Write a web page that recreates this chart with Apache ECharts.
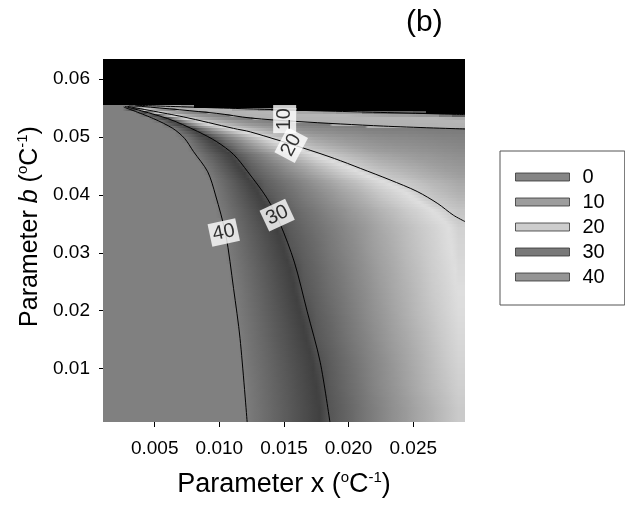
<!DOCTYPE html>
<html><head><meta charset="utf-8">
<script src="https://cdn.jsdelivr.net/npm/echarts@6/dist/echarts.min.js"></script>
<style>html,body{margin:0;padding:0;background:#fff}#c{width:625px;height:507px}</style>
</head><body><div id="c"></div>
<script>
// ---- data ----
const xEdges = [0.001,0.002,0.003,0.004,0.005,0.006,0.007,0.008,0.009,0.010,0.011,0.012,0.013,0.014,0.015,0.016,0.017,0.018,0.019,0.020,0.021,0.022,0.023,0.024,0.025,0.026,0.027,0.028,0.029];
const yEdges = [0.00075,0.005,0.009,0.013,0.017,0.021,0.025,0.029,0.033,0.036,0.039,0.042,0.044,0.046,0.048,0.050,0.051,0.052,0.053,0.0535,0.054,0.0545,0.055,0.0555,0.0635];
// one row of estimated values per y band (bottom to top); -1 = black (no value)
const fieldRows = [
 [46,46,46,46,46,46,46,45,44,43,41,39.4,37.8,36.2,34.6,33.0,31.4,29.9,29.2,28.4,27.6,26.9,26.1,25.4,24.6,23.9,23.1,22.3],
 [46,46,46,46,46,46,46,45,44,43,41,39.2,37.5,35.9,34.3,32.6,31.0,29.7,28.9,28.1,27.3,26.5,25.8,25.0,24.2,23.4,22.7,21.9],
 [46,46,46,46,46,46,46,45,44,42,40.5,38.8,37.2,35.5,33.8,32.2,30.5,29.5,28.7,27.9,27.1,26.4,25.6,24.8,24.0,23.2,22.4,21.6],
 [46,46,46,46,46,46,46,45,44,42,40.2,38.4,36.7,34.9,33.2,31.4,29.8,29.1,28.3,27.5,26.8,26.0,25.2,24.5,23.7,22.9,22.1,21.3],
 [46,46,46,46,46,46,45,44,43,41,39.8,38.0,36.2,34.4,32.5,30.7,29.5,28.8,28.0,27.2,26.4,25.7,24.9,24.1,23.3,22.6,21.8,21.0],
 [46,46,46,46,46,46,45,44,43,41,39.4,37.5,35.6,33.7,31.7,29.9,29.2,28.4,27.7,26.9,26.2,25.4,24.6,23.9,23.1,22.3,21.6,20.8],
 [46,46,46,46,46,46,45,44,42,40.5,38.8,36.9,34.9,32.9,31.0,29.6,28.9,28.1,27.4,26.6,25.9,25.1,24.4,23.6,22.9,22.1,21.4,20.6],
 [46,46,46,46,46,46,45,44,42,40.2,38.1,36.0,33.9,31.9,29.9,29.2,28.5,27.7,27.0,26.3,25.5,24.8,24.1,23.3,22.6,21.9,21.1,20.4],
 [46,46,46,46,46,45,44,43,41,39.6,37.3,35.1,32.9,30.7,29.5,28.8,28.1,27.4,26.7,26.0,25.3,24.5,23.8,23.1,22.4,21.7,21.0,20.2],
 [46,46,46,46,46,45,44,43,40.6,38.8,36.3,33.9,31.5,29.7,29.0,28.2,27.5,26.7,26.0,25.2,24.5,23.7,23.0,22.2,21.5,20.7,20.0,19.1],
 [46,46,46,46,45,44,43,42,40.3,37.6,34.9,32.2,29.8,29.0,28.2,27.3,26.5,25.7,24.8,24.0,23.2,22.3,21.5,20.7,19.8,18.8,17.9,17.0],
 [46,46,46,45,44,43,42,41,39.4,36.3,33.1,30.0,29.0,28.0,27.1,26.1,25.1,24.1,23.1,22.2,21.2,20.2,19.3,18.5,17.6,16.8,16.1,15.4],
 [46,46,46,45,44,43,42,40.5,37.7,34.3,31.0,29.2,28.0,26.9,25.7,24.6,23.4,22.3,21.1,20.0,18.9,17.9,17.2,16.5,15.9,15.2,14.6,14.1],
 [46,46,45,44,43,42,41,38.7,35.3,32.0,29.4,27.9,26.5,25.0,23.5,22.1,20.6,19.3,18.2,17.2,16.3,15.6,15.1,14.6,14.1,13.7,13.2,12.8],
 [46,45,44,43,42,41,39.9,35.8,31.7,28.9,27.0,25.1,23.2,21.3,19.5,18.0,16.7,15.9,15.1,14.4,13.8,13.3,12.9,12.7,12.4,12.1,11.8,11.5],
 [45,44,43,42,41,40.5,36.7,31.1,28.1,25.8,23.5,21.2,19.0,17.1,15.8,14.7,13.8,13.3,12.8,12.4,11.9,11.6,11.4,11.3,11.1,10.9,10.7,10.6],
 [45,44,43,42,41,39.3,32.1,27.9,24.8,21.8,19.1,17.2,15.5,14.3,13.3,12.4,11.9,11.6,11.2,11.0,10.6,10.5,10.3,10.3,10.2,10.1,10.0,9.9],
 [44,43,42,41,39.9,31.7,26.7,22.5,18.9,16.7,14.8,13.2,12.1,11.4,10.8,10.2,9.9,9.5,9.0,8.6,7.8,7.4,7.0,7.0,6.5,6.3,5.8,5.4],
 [44,43,42,40.4,33.6,26.5,20.6,17.2,15.0,13.1,11.5,10.2,9.1,8.5,7.6,6.8,6.4,6.0,5.5,5.0,4.6,4.1,3.7,3.7,3.3,3.1,2.7,2.3],
 [43,42,41,37.5,27.3,20.7,16.5,14.1,12.4,10.7,8.9,7.2,6.2,5.6,5.0,4.3,4.0,3.6,3.1,2.6,2.4,2.0,1.7,1.7,1.1,1.0,0.6,0.2],
 [43,42,40.5,28.2,19.8,15.5,12.7,10.9,9.5,7.1,5.4,4.4,3.6,3.1,2.8,2.1,2.0,1.7,1.1,1.1,0.6,0.4,0.3,0.3,0.1,-1,-1,-1],
 [42,41,30,19,13.6,10.5,7.9,5.6,4.2,2.9,1.8,1.5,0.8,0.3,0.3,-1,-1,-1,-1,-1,-1,-1,-1,-1,-1,-1,-1,-1],
 [42,41,17,8,4.2,2.5,1.1,-1,-1,-1,-1,-1,-1,-1,-1,-1,-1,-1,-1,-1,-1,-1,-1,-1,-1,-1,-1,-1],
 [-1,-1,-1,-1,-1,-1,-1,-1,-1,-1,-1,-1,-1,-1,-1,-1,-1,-1,-1,-1,-1,-1,-1,-1,-1,-1,-1,-1]
];
// contour lines (x, y)
const c40X = [0.0026,0.0049,0.0064,0.0073,0.0080,0.0091,0.0097,0.0105,0.0111,0.0116,0.01215];
const c40Y = [0.0552,0.0532,0.0515,0.0498,0.0475,0.0440,0.0400,0.0331,0.0238,0.0152,0.00075];
const c30X = [0.0027,0.0060,0.0083,0.0098,0.0111,0.0122,0.0137,0.0147,0.0158,0.0168,0.0178,0.01855];
const c30Y = [0.0553,0.0532,0.0510,0.0492,0.0470,0.0440,0.0394,0.0350,0.0284,0.0198,0.0111,0.00075];
const c20X = [0.0029,0.0072,0.0111,0.0124,0.0165,0.0189,0.0209,0.0232,0.0253,0.0269,0.0281,0.029];
const c20Y = [0.0553,0.0535,0.0515,0.0509,0.0481,0.0463,0.0446,0.0426,0.0406,0.0385,0.0365,0.0354];
const c10X = [0.0030,0.0040,0.0098,0.0124,0.0160,0.0227,0.029];
const c10Y = [0.0554,0.0553,0.0541,0.0533,0.0527,0.0519,0.0514];
const c0X = [0.0035,0.0150,0.029];
const c0Y = [0.0555,0.0547,0.0539];
// contour labels
const labelTexts = ['40','30','20','10'];
const labelX = [0.01034,0.01447,0.01556,0.01505];
const labelY = [0.0335,0.0365,0.0486,0.0531];
// ticks and legend
const xTicks = [0.005,0.010,0.015,0.020,0.025];
const yTicks = [0.01,0.02,0.03,0.04,0.05,0.06];
const legendNames = ['0','10','20','30','40'];

// ---- styles ----
const FONT = 'Liberation Sans, Arial, sans-serif';
const labelAngles = [12, 25, 62, 90];
const legendColors = ['#666666','#858585','#c0c0c0','#585858','#7a7a7a'];
const shadeStops = [[0,80],[1,150],[3,182],[9.99,176],[10,122],[15,158],[20,204],[20.8,222],[22.3,202],[30,84],[31,64],[40,124]];
function grayOf(v){
  if (v >= 40) return 128;
  for (let k = 0; k < shadeStops.length - 1; k++) {
    const a = shadeStops[k], b = shadeStops[k+1];
    if (v >= a[0] && v <= b[0]) return Math.round(a[1] + (b[1]-a[1]) * (v-a[0]) / (b[0]-a[0]));
  }
  return 128;
}
function shade(v){
  if (v < 0) return '#000000';
  const g = grayOf(v);
  return 'rgb(' + g + ',' + g + ',' + g + ')';
}
const nCols = xEdges.length - 1;
const nRows = fieldRows.length;
const cells = [];
for (let j = 0; j < nRows; j++) {
  for (let i = 0; i < nCols; i++) {
    cells.push([xEdges[i], yEdges[j], xEdges[i+1], yEdges[j+1], fieldRows[j][i]]);
  }
}
// smooth shading inside a cell from the neighbouring cell values (rendering only)
function cellVal(i, j){
  i = Math.max(0, Math.min(nCols-1, i)); j = Math.max(0, Math.min(nRows-1, j));
  return fieldRows[j][i];
}
function shadeAt(gx, gy, own){
  const fx = gx - 0.5, fy = gy - 0.5;
  const i0 = Math.floor(fx), j0 = Math.floor(fy);
  const tx = fx - i0, ty = fy - j0;
  const a = cellVal(i0,j0), b = cellVal(i0+1,j0), c = cellVal(i0,j0+1), d = cellVal(i0+1,j0+1);
  if (a < 0 || b < 0 || c < 0 || d < 0) return own;
  return a*(1-tx)*(1-ty) + b*tx*(1-ty) + c*(1-tx)*ty + d*tx*ty;
}
function pairs(xs, ys){ return xs.map((x,k)=>[x, ys[k]]); }
function contour(name, xs, ys){
  return {type:'line', name:name, data:pairs(xs,ys), showSymbol:false, symbol:'none', smooth:0.3,
    lineStyle:{color:'#000', width:1}, z:3, silent:true, legendHoverLink:false};
}

const chart = echarts.init(document.getElementById('c'), null, {renderer:'canvas'});
const subStyle = {fontSize:15, lineHeight:15, verticalAlign:'top', color:'#000', fontFamily:FONT};
const option = {
  animation:false,
  textStyle:{fontFamily:FONT},
  title:{text:'(b)', left:401, top:3, textStyle:{fontSize:30, fontWeight:'normal', color:'#000', fontFamily:FONT}},
  grid:{left:103, top:59, width:362, height:363, containLabel:false},
  xAxis:{type:'value', min:0.001, max:0.029,
    axisLine:{show:false, onZero:false}, splitLine:{show:false},
    axisTick:{show:true, length:5, lineStyle:{color:'#000', width:1}, customValues:xTicks},
    axisLabel:{customValues:xTicks, formatter:v=>v.toFixed(3), fontSize:19, color:'#000', margin:17, fontFamily:FONT},
    name:'{n|Parameter x (}{s|o}{n|C}{s|-1}{n|)}', nameLocation:'middle', nameGap:48,
    nameTextStyle:{rich:{n:{fontSize:27, lineHeight:30, color:'#000', fontFamily:FONT}, s:subStyle}}
  },
  yAxis:{type:'value', min:0.00075, max:0.0635,
    axisLine:{show:false, onZero:false}, splitLine:{show:false},
    axisTick:{show:true, length:4, lineStyle:{color:'#000', width:1}, customValues:yTicks},
    axisLabel:{customValues:yTicks, formatter:v=>v.toFixed(2), fontSize:19, color:'#000', margin:13, fontFamily:FONT},
    name:'{n|Parameter }{i|b}{n| (}{s|o}{n|C}{s|-1}{n|)}', nameLocation:'middle', nameGap:58,
    nameTextStyle:{padding:[0,0,0,28], rich:{n:{fontSize:25, lineHeight:28, color:'#000', fontFamily:FONT},
      i:{fontSize:25, lineHeight:28, fontStyle:'italic', color:'#000', fontFamily:FONT}, s:subStyle}}
  },
  legend:{data:legendNames, orient:'vertical', left:500, top:151, icon:'rect', itemWidth:54, itemHeight:8, itemGap:5,
    padding:[16,20,18,15], borderColor:'#555', borderWidth:1, selectedMode:false,
    itemStyle:{borderColor:'#333', borderWidth:1},
    textStyle:{fontSize:20, lineHeight:17, color:'#000', padding:[0,0,0,8], fontFamily:FONT}},
  series:[
    {type:'custom', name:'field', data:cells, encode:{x:[0,2], y:[1,3]}, silent:true, z:1,
      renderItem:function(params, api){
        const idx = params.dataIndex;
        const j = Math.floor(idx / nCols), i = idx % nCols;
        const v = fieldRows[j][i];
        const p0 = api.coord([api.value(0), api.value(3)]);
        const p1 = api.coord([api.value(2), api.value(1)]);
        const X0 = Math.round(p0[0]), X1 = Math.round(p1[0]);
        const hPx = p1[1] - p0[1];
        if (v < 0) {
          const T = Math.round(p0[1]), B = Math.round(p1[1]);
          return {type:'rect', shape:{x:X0, y:T, width:X1-X0, height:B-T}, style:{fill:'#000'}};
        }
        const S = Math.max(1, Math.round(hPx / 3));
        const children = [];
        for (let k = 0; k < S; k++) {
          const T = Math.round(p0[1] + hPx * k / S);
          const B = Math.round(p0[1] + hPx * (k + 1) / S);
          if (B <= T) continue;
          const gy = j + 1 - (k + 0.5) / S;
          const stops = [0,0.25,0.5,0.75,1].map(f => ({offset:f, color:shade(shadeAt(i + f, gy, v))}));
          children.push({type:'rect', shape:{x:X0, y:T, width:X1-X0, height:B-T},
            style:{fill:{type:'linear', x:0, y:0, x2:1, y2:0, colorStops:stops}}});
        }
        return {type:'group', children:children};
      }},
    contour('c40', c40X, c40Y),
    contour('c30', c30X, c30Y),
    contour('c20', c20X, c20Y),
    contour('c10', c10X, c10Y),
    contour('c0', c0X, c0Y),
    {type:'scatter', name:'labels', symbolSize:0, z:5, silent:true,
      data:labelTexts.map((t,k)=>({value:[labelX[k], labelY[k]],
        label:{show:true, position:'inside', formatter:t, rotate:labelAngles[k], fontSize:20, color:'#000',
          backgroundColor:'#fff', padding:[2,3,1,3], fontFamily:FONT}}))}
  ].concat(legendNames.map((n,k)=>({type:'scatter', name:n, data:[], itemStyle:{color:legendColors[k]}})))
};
chart.setOption(option);
</script></body></html>
